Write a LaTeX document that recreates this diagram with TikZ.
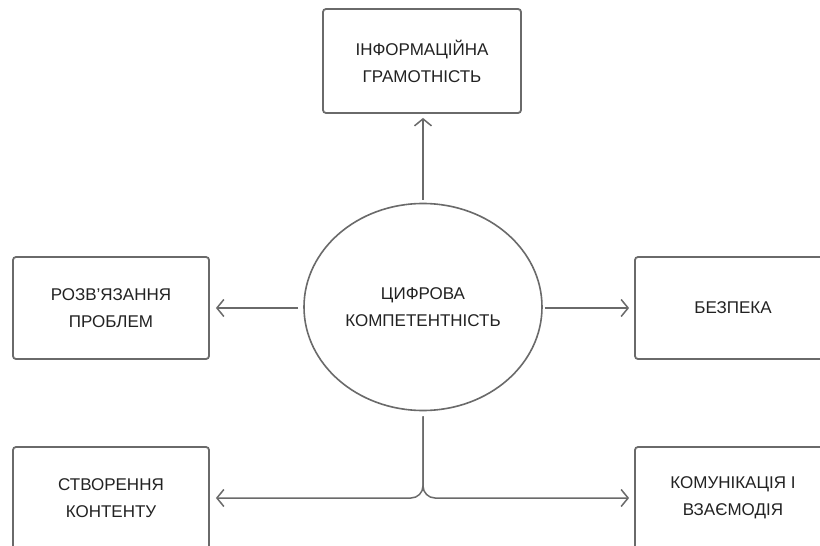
\documentclass[tikz,border=0pt]{standalone}
\usepackage{fontspec}
\setmainfont{Liberation Sans}
\usetikzlibrary{shapes.geometric,arrows.meta}
\definecolor{linec}{HTML}{6A6A6A}
\definecolor{textc}{HTML}{222222}
\begin{document}
\begin{tikzpicture}[x=1pt,y=-1pt,
  every node/.style={text=textc,font=\fontsize{17}{27}\selectfont,align=center},
  boxn/.style={draw=linec,line width=1.8pt,rounded corners=3pt,minimum width=196pt,minimum height=102pt,inner sep=0pt},
  ovaln/.style={draw=linec,line width=1.6pt,ellipse,minimum width=238pt,minimum height=207pt,inner sep=0pt},
  arr/.style={draw=linec,line width=1.5pt,-{Straight Barb[length=7pt,width=17pt,line width=1.5pt]}}]
\fill[white] (0,0) rectangle (820,546);
\clip (0,0) rectangle (820,546);
\node[ovaln] (c) at (423,307) {ЦИФРОВА\\КОМПЕТЕНТНІСТЬ};
\node[boxn,minimum width=198pt,minimum height=104pt] (top) at (422,61) {ІНФОРМАЦІЙНА\\ГРАМОТНІСТЬ};
\node[boxn] (left) at (111,308) {РОЗВ’ЯЗАННЯ\\ПРОБЛЕМ};
\node[boxn] (right) at (733,308) {БЕЗПЕКА};
\node[boxn] (bl) at (111,498) {СТВОРЕННЯ\\КОНТЕНТУ};
\node[boxn] (br) at (733,498) {КОМУНІКАЦІЯ І\\ВЗАЄМОДІЯ};
\draw[arr,shorten <=3pt,shorten >=4pt] (c.north) -- (c.north |- top.south);
\draw[arr,shorten <=5pt,shorten >=6pt] (c.west |- left.east) -- (left.east);
\draw[arr,shorten <=2pt,shorten >=5pt] (c.east |- right.west) -- (right.west);
\draw[arr,rounded corners=12pt,shorten <=5pt,shorten >=6pt] (c.south) |- (bl.east);
\draw[arr,rounded corners=12pt,shorten <=5pt,shorten >=5pt] (c.south) |- (br.west);
\end{tikzpicture}
\end{document}
